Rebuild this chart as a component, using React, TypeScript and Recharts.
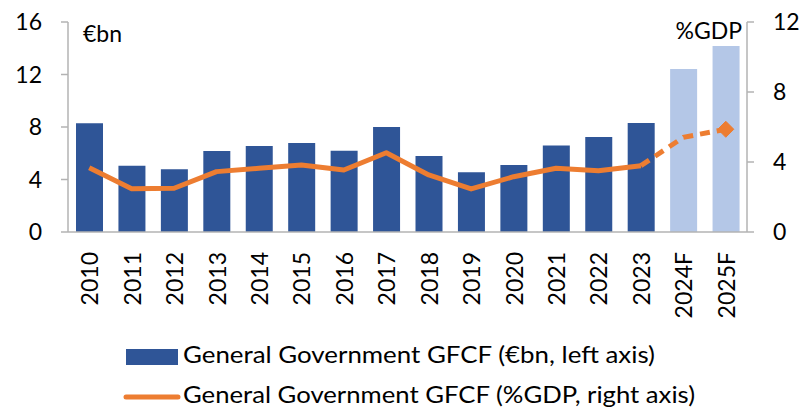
import React from "react";
import { ComposedChart, Bar, Line, XAxis, YAxis, Cell } from "recharts";

const years = ["2010","2011","2012","2013","2014","2015","2016","2017","2018","2019","2020","2021","2022","2023","2024F","2025F"];
const gfcfBn = [8.28, 5.05, 4.78, 6.17, 6.55, 6.78, 6.2, 8.0, 5.79, 4.55, 5.1, 6.6, 7.24, 8.3, 12.42, 14.17];
const gfcfPctGdp = [3.67, 2.47, 2.5, 3.45, 3.64, 3.83, 3.54, 4.53, 3.26, 2.46, 3.16, 3.64, 3.5, 3.79, 5.41, 5.87];
const leftTicks = [0, 4, 8, 12, 16];
const rightTicks = [0, 4, 8, 12];

const isForecast = (y: string) => y.endsWith("F");
const lastActual = years.filter((y) => !isForecast(y)).length - 1;

const data = years.map((year, i) => ({
  year,
  bn: gfcfBn[i],
  solid: i <= lastActual ? gfcfPctGdp[i] : null,
  dashed: i >= lastActual ? gfcfPctGdp[i] : null,
}));

const FONT = "Lato, 'Open Sans', sans-serif";
const DARK = "#2F5597";
const LIGHT = "#B4C7E7";
const ORANGE = "#ED7D31";
const AXIS = "#B3B3B3";

const XTick = (props: any) => {
  const { x, y, payload } = props;
  const ty = y + 20;
  return (
    <text
      x={x}
      y={ty}
      transform={`rotate(-90 ${x} ${ty})`}
      textAnchor="end"
      dominantBaseline="central"
      fontFamily={FONT}
      fontSize={23}
      fill="#000"
    >
      {payload.value}
    </text>
  );
};

const Diamond = (props: any) => {
  const { cx, cy, index } = props;
  if (index !== years.length - 1 || cx == null || cy == null) return <g key={index} />;
  const r = 8;
  return (
    <path
      key={index}
      d={`M${cx},${cy - r} L${cx + r},${cy} L${cx},${cy + r} L${cx - r},${cy} Z`}
      fill={ORANGE}
      stroke={ORANGE}
    />
  );
};

export default function App() {
  return (
    <div style={{ position: "absolute", left: 0, top: 0, width: 801, height: 408, background: "#fff" }}>
      <ComposedChart
        width={801}
        height={408}
        data={data}
        margin={{ top: 22, right: 0, left: 0, bottom: 0 }}
        barSize={27}
      >
        <XAxis
          dataKey="year"
          xAxisId={0}
          height={176}
          tick={<XTick />}
          tickLine={false}
          tickSize={0}
          tickMargin={0}
          interval={0}
          axisLine={{ stroke: AXIS, strokeWidth: 1.5 }}
        />
        <YAxis
          yAxisId="left"
          orientation="left"
          width={68}
          domain={[0, 16]}
          ticks={leftTicks}
          interval={0}
          tickSize={7}
          tickMargin={19}
          tick={{ fill: "#000", fontSize: 23, fontFamily: FONT }}
          axisLine={{ stroke: AXIS, strokeWidth: 1.5 }}
          tickLine={{ stroke: AXIS, strokeWidth: 1.5 }}
        />
        <YAxis
          yAxisId="right"
          orientation="right"
          width={54}
          domain={[0, 12]}
          ticks={rightTicks}
          interval={0}
          tickSize={7}
          tickMargin={19}
          tick={{ fill: "#000", fontSize: 23, fontFamily: FONT }}
          axisLine={{ stroke: AXIS, strokeWidth: 1.5 }}
          tickLine={{ stroke: AXIS, strokeWidth: 1.5 }}
        />
        <Bar yAxisId="left" dataKey="bn" isAnimationActive={false}>
          {data.map((d, i) => (
            <Cell key={i} fill={isForecast(d.year) ? LIGHT : DARK} />
          ))}
        </Bar>
        <Line
          yAxisId="right"
          dataKey="solid"
          stroke={ORANGE}
          strokeWidth={5}
          strokeLinejoin="round"
          dot={false}
          activeDot={false}
          isAnimationActive={false}
          type="linear"
        />
        <Line
          yAxisId="right"
          dataKey="dashed"
          stroke={ORANGE}
          strokeWidth={5}
          strokeDasharray="10 7"
          dot={<Diamond />}
          activeDot={false}
          isAnimationActive={false}
          type="linear"
        />
        <text x={83} y={42} fontFamily={FONT} fontSize={23} fill="#000">€bn</text>
        <text x={742} y={39} textAnchor="end" fontFamily={FONT} fontSize={23} fill="#000">%GDP</text>
      </ComposedChart>
      <svg width={801} height={408} style={{ position: "absolute", left: 0, top: 0, pointerEvents: "none" }}>
        <rect x={126} y={349} width={52} height={16} fill={DARK} />
        <text x={183} y={363} fontFamily={FONT} fontSize={24} fill="#000" textLength={472} lengthAdjust="spacingAndGlyphs">General Government GFCF (€bn, left axis)</text>
        <line x1={126} y1={397} x2={178} y2={397} stroke={ORANGE} strokeWidth={5} strokeLinecap="round" />
        <text x={183} y={403} fontFamily={FONT} fontSize={24} fill="#000" textLength={512} lengthAdjust="spacingAndGlyphs">General Government GFCF (%GDP, right axis)</text>
      </svg>
    </div>
  );
}
